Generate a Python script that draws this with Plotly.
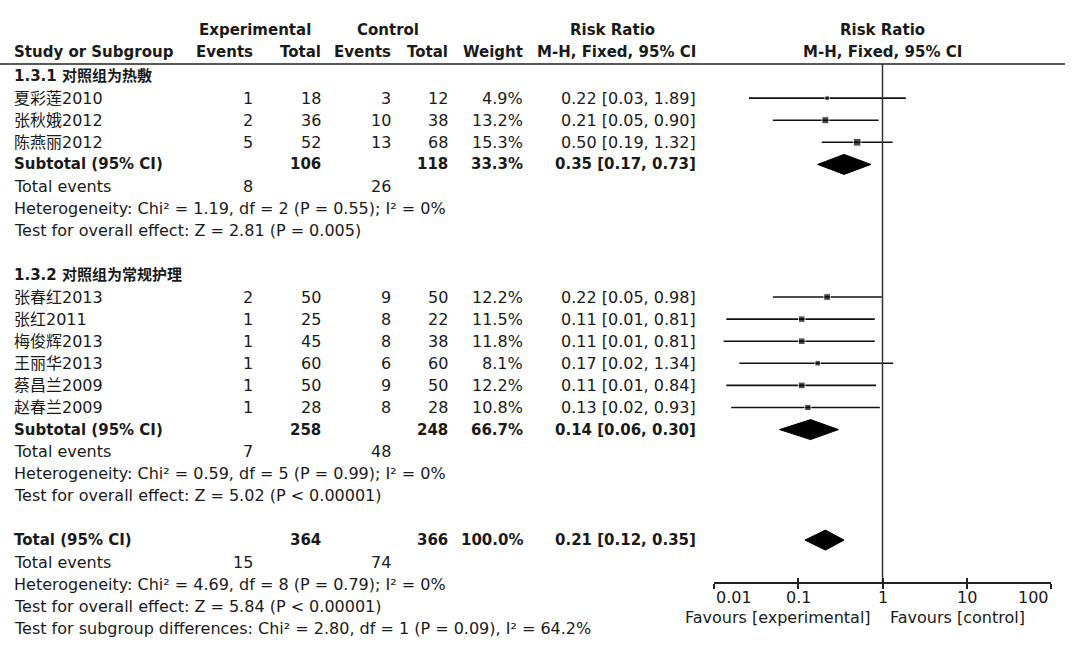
import math
import plotly.graph_objects as go

W, H = 1080, 648

# study level data
studies = ["夏彩莲2010", "张秋娥2012", "陈燕丽2012",
           "张春红2013", "张红2011", "梅俊辉2013", "王丽华2013", "蔡昌兰2009", "赵春兰2009"]
exp_events = [1, 2, 5, 2, 1, 1, 1, 1, 1]
exp_total = [18, 36, 52, 50, 25, 45, 60, 50, 28]
ctrl_events = [3, 10, 13, 9, 8, 8, 6, 9, 8]
ctrl_total = [12, 38, 68, 50, 22, 38, 60, 50, 28]
weight = [4.9, 13.2, 15.3, 12.2, 11.5, 11.8, 8.1, 12.2, 10.8]
rr = [0.22, 0.21, 0.50, 0.22, 0.11, 0.11, 0.17, 0.11, 0.13]
rr_lo = [0.026, 0.05, 0.19, 0.05, 0.014, 0.013, 0.02, 0.014, 0.016]
rr_hi = [1.89, 0.90, 1.32, 0.98, 0.81, 0.81, 1.34, 0.84, 0.93]
study_rows = [1, 2, 3, 10, 11, 12, 13, 14, 15]

# subgroups
group_titles = ["1.3.1 对照组为热敷", "1.3.2 对照组为常规护理"]
group_rows = [0, 9]
sub_exp_total = [106, 258]
sub_ctrl_total = [118, 248]
sub_weight = [33.3, 66.7]
sub_rr = [0.35, 0.14]
sub_lo = [0.17, 0.06]
sub_hi = [0.73, 0.30]
sub_exp_events = [8, 7]
sub_ctrl_events = [26, 48]
sub_het = ["Heterogeneity: Chi² = 1.19, df = 2 (P = 0.55); I² = 0%",
           "Heterogeneity: Chi² = 0.59, df = 5 (P = 0.99); I² = 0%"]
sub_test = ["Test for overall effect: Z = 2.81 (P = 0.005)",
            "Test for overall effect: Z = 5.02 (P &lt; 0.00001)"]
sub_rows = [4, 16]

# overall
tot_exp_total, tot_ctrl_total, tot_weight = 364, 366, 100.0
tot_rr, tot_lo, tot_hi = 0.21, 0.12, 0.35
tot_exp_events, tot_ctrl_events = 15, 74
tot_het = "Heterogeneity: Chi² = 4.69, df = 8 (P = 0.79); I² = 0%"
tot_test = "Test for overall effect: Z = 5.84 (P &lt; 0.00001)"
sub_diff = "Test for subgroup differences: Chi² = 2.80, df = 1 (P = 0.09), I² = 64.2%"
tot_row = 21

tick_vals = [0.01, 0.1, 1, 10, 100]
tick_text = ["0.01", "0.1", "1", "10", "100"]

FONT = "DejaVu Sans, Noto Sans CJK SC, sans-serif"
TXT = "#1a1a1a"
ROW0, PITCH = 76, 22.1
AXIS_Y = 583
LINE_Y = 64


def ry(i):
    return ROW0 + PITCH * i


def ci_text(r, lo, hi):
    return f"{r:.2f} [{lo:.2f}, {hi:.2f}]"


annotations = []


def txt(s, x, y, anchor="left", bold=False, size=None):
    annotations.append(dict(
        text=f"<b>{s}</b>" if bold else s, x=x / W, y=y, xref="paper", yref="y",
        xanchor=anchor, yanchor="middle", showarrow=False,
        font=dict(family=FONT, size=size or (15 if bold else 16), color=TXT)))


# column right edges
C_EE, C_ET, C_CE, C_CT, C_W, C_CI = 255, 323, 393, 450, 525, 698

# header
txt("Experimental", 255, 30, "center", True)
txt("Control", 388, 30, "center", True)
txt("Risk Ratio", 612, 30, "center", True)
txt("Risk Ratio", 882, 30, "center", True)
txt("Study or Subgroup", 12, 52, "left", True)
txt("Events", C_EE, 52, "right", True)
txt("Total", C_ET, 52, "right", True)
txt("Events", C_CE, 52, "right", True)
txt("Total", C_CT, 52, "right", True)
txt("Weight", C_W, 52, "right", True)
txt("M-H, Fixed, 95% CI", C_CI, 52, "right", True)
txt("M-H, Fixed, 95% CI", 882, 52, "center", True)

for t, r in zip(group_titles, group_rows):
    txt(t, 12, ry(r), "left", True)

for k, r in enumerate(study_rows):
    y = ry(r)
    txt(studies[k], 12, y)
    txt(str(exp_events[k]), C_EE, y, "right")
    txt(str(exp_total[k]), C_ET, y, "right")
    txt(str(ctrl_events[k]), C_CE, y, "right")
    txt(str(ctrl_total[k]), C_CT, y, "right")
    txt(f"{weight[k]:.1f}%", C_W, y, "right")
    txt(ci_text(rr[k], rr_lo[k], rr_hi[k]), C_CI, y, "right")

for k, r in enumerate(sub_rows):
    y = ry(r)
    txt("Subtotal (95% CI)", 12, y, "left", True)
    txt(str(sub_exp_total[k]), C_ET, y, "right", True)
    txt(str(sub_ctrl_total[k]), C_CT, y, "right", True)
    txt(f"{sub_weight[k]:.1f}%", C_W, y, "right", True)
    txt(ci_text(sub_rr[k], sub_lo[k], sub_hi[k]), C_CI, y, "right", True)
    txt("Total events", 12, ry(r + 1))
    txt(str(sub_exp_events[k]), C_EE, ry(r + 1), "right")
    txt(str(sub_ctrl_events[k]), C_CE, ry(r + 1), "right")
    txt(sub_het[k], 12, ry(r + 2))
    txt(sub_test[k], 12, ry(r + 3))

y = ry(tot_row)
txt("Total (95% CI)", 12, y, "left", True)
txt(str(tot_exp_total), C_ET, y, "right", True)
txt(str(tot_ctrl_total), C_CT, y, "right", True)
txt(f"{tot_weight:.1f}%", C_W, y, "right", True)
txt(ci_text(tot_rr, tot_lo, tot_hi), C_CI, y, "right", True)
txt("Total events", 12, ry(tot_row + 1))
txt(str(tot_exp_events), C_EE, ry(tot_row + 1), "right")
txt(str(tot_ctrl_events), C_CE, ry(tot_row + 1), "right")
txt(tot_het, 12, ry(tot_row + 2))
txt(tot_test, 12, ry(tot_row + 3))
txt(sub_diff, 12, ry(tot_row + 4))

# axis tick labels (end labels aligned inward, like RevMan)
for k, (v, s) in enumerate(zip(tick_vals, tick_text)):
    anchor = "left" if k == 0 else ("right" if k == len(tick_vals) - 1 else "center")
    annotations.append(dict(
        text=s, x=math.log10(v), y=597, xref="x", yref="y", xanchor=anchor,
        yanchor="middle", showarrow=False, font=dict(family=FONT, size=16, color=TXT)))
txt("Favours [experimental]", 873, 617, "right")
txt("Favours [control]", 888, 617, "left")

fig = go.Figure()

# confidence interval lines
ci_x, ci_y = [], []
for k, r in enumerate(study_rows):
    ci_x += [rr_lo[k], rr_hi[k], None]
    ci_y += [ry(r), ry(r), None]
fig.add_trace(go.Scatter(x=ci_x, y=ci_y, mode="lines",
                         line=dict(color="#111", width=1.6), hoverinfo="skip"))

# study squares sized by weight
fig.add_trace(go.Scatter(
    x=rr, y=[ry(r) for r in study_rows], mode="markers",
    marker=dict(symbol="square", color="#000", size=[3 + 0.3 * w for w in weight]),
    text=studies, hoverinfo="text+x"))

# diamonds for subtotals and total
for r, lo, est, hi in zip(sub_rows + [tot_row], sub_lo + [tot_lo],
                          sub_rr + [tot_rr], sub_hi + [tot_hi]):
    yc = ry(r)
    fig.add_trace(go.Scatter(
        x=[lo, est, hi, est, lo], y=[yc, yc - 10, yc, yc + 10, yc],
        mode="lines", fill="toself", fillcolor="#000",
        line=dict(color="#000", width=1), hoverinfo="skip"))

# line of no effect
fig.add_trace(go.Scatter(x=[1, 1], y=[LINE_Y, AXIS_Y], mode="lines", xaxis="x2",
                         line=dict(color="#333", width=1.5), hoverinfo="skip"))

x_dom = [714 / W, 1051 / W]
axis_common = dict(type="log", range=[-2, 2], domain=x_dom, anchor="free",
                   position=1 - AXIS_Y / H, tickvals=tick_vals, showticklabels=False,
                   showgrid=False, zeroline=False, tickcolor="#222", tickwidth=1.5,
                   ticklen=5)

fig.update_layout(
    width=W, height=H, margin=dict(l=0, r=0, t=0, b=0),
    paper_bgcolor="white", plot_bgcolor="white", showlegend=False,
    xaxis=dict(**axis_common, ticks="outside", showline=True,
               linecolor="#222", linewidth=1.5),
    xaxis2=dict(**axis_common, ticks="inside", overlaying="x", showline=False),
    yaxis=dict(range=[H, 0], domain=[0, 1], visible=False),
    annotations=annotations,
    shapes=[dict(type="line", xref="paper", yref="y", x0=0, x1=1065 / W,
                 y0=LINE_Y, y1=LINE_Y, line=dict(color="#222", width=1.5))],
)

# drop the browser's default 8px body margin so the figure sits at the page corner
fig.write_html("out.html", config={"displayModeBar": False},
               post_script="document.body.style.margin = '0';")
